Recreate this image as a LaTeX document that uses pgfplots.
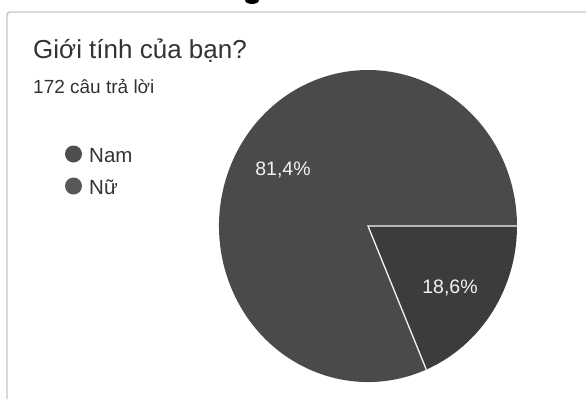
\documentclass[border=0pt]{standalone}
\usepackage{pgfplots}
\pgfplotsset{compat=1.18}
\usepackage{pgfplotstable}
\usetikzlibrary{calc}
\usepackage{fontspec}
\setmainfont{Liberation Sans}
\definecolor{slNam}{HTML}{3C3C3C}
\definecolor{slNu}{HTML}{4A4A4A}
\definecolor{dotNam}{HTML}{4E4E4E}
\definecolor{dotNu}{HTML}{585858}
\definecolor{txt}{HTML}{333333}
\definecolor{frame}{HTML}{C4C4C4}
\pgfplotstableread{
label value
Nam 18.6
Nu 81.4
}\piedata
\pgfplotstablegetelem{0}{value}\of\piedata
\let\vNam\pgfplotsretval
\pgfplotstablegetelem{1}{value}\of\piedata
\let\vNu\pgfplotsretval
\begin{document}
\begin{tikzpicture}
\begin{axis}[
  x=1pt, y=1pt, y dir=reverse,
  xmin=0, xmax=586, ymin=0, ymax=399,
  hide axis, clip=false, scale only axis,
]
% invisible data carrier
\addplot[draw=none, forget plot] table[x expr=\coordindex, y=value] {\piedata};
% frame
\draw[frame, line width=1.4pt, rounded corners=3pt] (axis cs:7,399) -- (axis cs:7,12) -- (axis cs:586,12);
\fill[black] (axis cs:252,0) ellipse[x radius=7pt, y radius=4pt];
% pie: Nam wedge clockwise from 0 deg, Nu rest
\fill[slNam] (axis cs:368,226) -- ++(0:149pt and 156pt) arc[start angle=0, end angle={-\vNam*3.6}, x radius=149pt, y radius=156pt] -- cycle;
\fill[slNu] (axis cs:368,226) -- ++({-\vNam*3.6}:149pt and 156pt) arc[start angle={-\vNam*3.6}, end angle={-\vNam*3.6-\vNu*3.6}, x radius=149pt, y radius=156pt] -- cycle;
\draw[white!92!gray, line width=1.3pt] ($(axis cs:368,226)+(0:149pt and 156pt)$) -- (axis cs:368,226) -- ++({-\vNam*3.6}:149pt and 156pt);
% percentage labels
\node[anchor=base, text=white!90!gray, font=\fontsize{19.5}{22}\selectfont, inner sep=0pt] at (axis cs:283,175) {81,4\%};
\node[anchor=base, text=white!90!gray, font=\fontsize{19.5}{22}\selectfont, inner sep=0pt] at (axis cs:450,293) {18,6\%};
% titles
\node[anchor=base west, text=txt, font=\fontsize{26}{30}\selectfont, inner sep=0pt] at (axis cs:33,58) {Giới tính của bạn?};
\node[anchor=base west, text=txt, font=\fontsize{19}{22}\selectfont, inner sep=0pt] at (axis cs:33,93) {172 câu trả lời};
% legend
\fill[dotNam] (axis cs:73.5,154) circle[radius=8.5pt];
\fill[dotNu] (axis cs:73.5,186) circle[radius=8.5pt];
\node[anchor=base west, text=txt, font=\fontsize{20.5}{24}\selectfont, inner sep=0pt] at (axis cs:89,162) {Nam};
\node[anchor=base west, text=txt, font=\fontsize{20.5}{24}\selectfont, inner sep=0pt] at (axis cs:89,194) {Nữ};
\end{axis}
\pgfresetboundingbox
\path (current axis.south west) rectangle (current axis.north east);
\end{tikzpicture}
\end{document}
